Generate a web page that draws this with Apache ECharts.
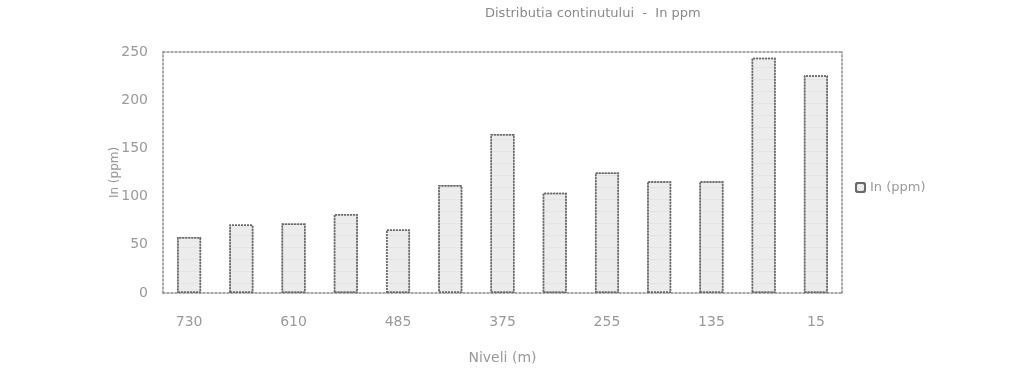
<!DOCTYPE html>
<html>
<head>
<meta charset="utf-8">
<script src="https://cdn.jsdelivr.net/npm/echarts@6/dist/echarts.min.js"></script>
<style>
  html, body { margin: 0; padding: 0; background: #fff; }
  #chart { width: 1036px; height: 390px; }
</style>
</head>
<body>
<div id="chart"></div>
<script>
// levels (m), only every other one is printed on the axis
const levels = ['730', '670', '610', '550', '485', '430', '375', '315', '255', '195', '135', '75', '15']
const inPpm = [58, 71, 72, 82, 66, 112, 165, 104, 125, 116, 116, 244, 226]
const yTicks = [0, 250, 50]

const chart = echarts.init(document.getElementById('chart'))

const dotted = { color: '#8a8a8a', width: 1.5, type: [2, 2] }
const labelGrey = '#9a9a9a'

chart.setOption({
  backgroundColor: '#fff',
  animation: false,
  textStyle: { fontFamily: 'DejaVu Sans' },
  title: {
    text: 'Distributia continutului  -  In ppm',
    left: 480,
    top: 2,
    textStyle: { fontSize: 13, fontWeight: 'normal', color: '#8a8a8a' },
  },
  grid: { left: 163, right: 194, top: 52, bottom: 97 },
  legend: {
    orient: 'vertical',
    left: 850,
    top: 176,
    itemWidth: 9,
    itemHeight: 9,
    textStyle: { fontSize: 13, color: labelGrey, padding: [0, 0, 6, 0] },
    data: ['In (ppm)'],
  },
  xAxis: [
    {
      type: 'category',
      data: levels,
      name: 'Niveli (m)',
      nameLocation: 'middle',
      nameGap: 58,
      nameMoveOverlap: false,
      nameTextStyle: { fontSize: 14, color: labelGrey },
      axisLine: { lineStyle: dotted },
      axisTick: { show: false },
      axisLabel: { interval: 1, fontSize: 14, color: labelGrey, margin: 22 },
    },
    {
      type: 'category',
      data: levels,
      position: 'top',
      axisLine: { show: true, onZero: false, lineStyle: dotted },
      axisTick: { show: false },
      axisLabel: { show: false },
    },
  ],
  yAxis: [
    {
      type: 'value',
      min: yTicks[0],
      max: yTicks[1],
      interval: yTicks[2],
      name: 'In (ppm)',
      nameLocation: 'middle',
      nameGap: 42,
      nameMoveOverlap: false,
      nameTextStyle: { fontSize: 12, color: labelGrey },
      axisLine: { show: true, lineStyle: dotted },
      axisTick: { show: false },
      splitLine: { show: false },
      axisLabel: { fontSize: 14, color: labelGrey, margin: 15, padding: [0, 0, 12, 0] },
    },
    {
      type: 'value',
      min: yTicks[0],
      max: yTicks[1],
      interval: yTicks[2],
      position: 'right',
      axisLine: { show: true, onZero: false, lineStyle: dotted },
      axisTick: { show: false },
      splitLine: { show: false },
      axisLabel: { show: false },
    },
  ],
  series: [
    {
      name: 'In (ppm)',
      type: 'bar',
      barWidth: 24,
      data: inPpm,
      itemStyle: {
        color: '#ececec',
        borderColor: '#6a6a6a',
        borderWidth: 1.5,
        borderType: [2, 1],
        decal: {
          symbol: 'circle',
          symbolSize: 0.5,
          color: 'rgba(110,110,110,0.35)',
          dashArrayX: [[1, 0], [1, 3]],
          dashArrayY: [3, 3],
        },
      },
    },
  ],
})
</script>
</body>
</html>
